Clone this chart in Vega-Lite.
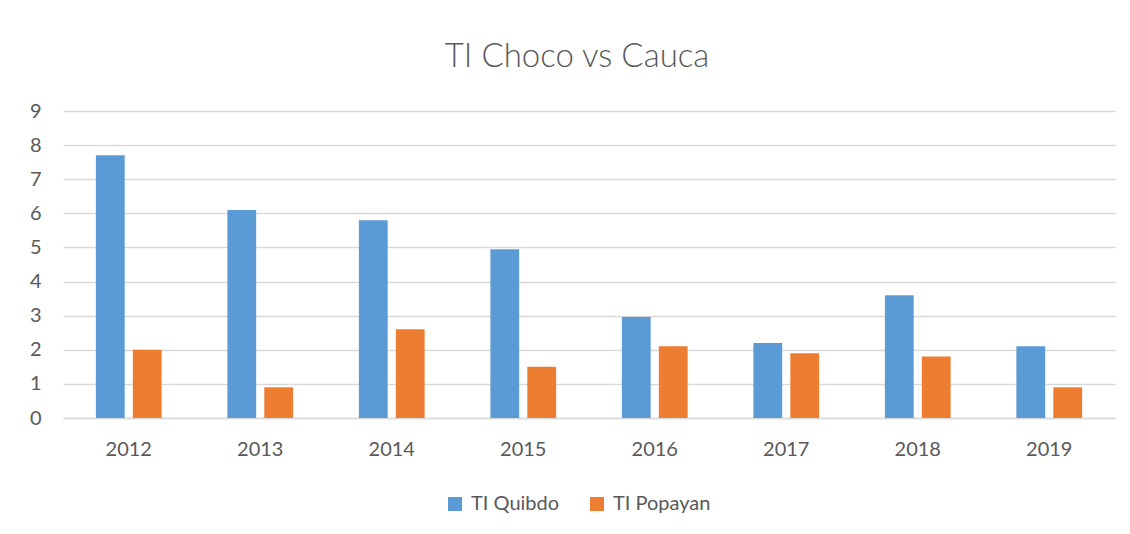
{
  "$schema": "https://vega.github.io/schema/vega-lite/v6.json",
  "width": 1052,
  "height": 307,
  "autosize": {"type": "none"},
  "padding": {"left": 63, "top": 111, "right": 15, "bottom": 116},
  "background": "white",
  "title": {
    "text": "TI Choco vs Cauca",
    "font": "Lato",
    "fontSize": 33,
    "fontWeight": 300,
    "color": "#595959",
    "anchor": "middle",
    "offset": 27,
    "dx": -12
  },
  "data": {
    "values": [
      {"year": "2012", "series": "TI Quibdo", "value": 7.7},
      {"year": "2012", "series": "TI Popayan", "value": 2.0},
      {"year": "2013", "series": "TI Quibdo", "value": 6.1},
      {"year": "2013", "series": "TI Popayan", "value": 0.9},
      {"year": "2014", "series": "TI Quibdo", "value": 5.8},
      {"year": "2014", "series": "TI Popayan", "value": 2.6},
      {"year": "2015", "series": "TI Quibdo", "value": 4.95},
      {"year": "2015", "series": "TI Popayan", "value": 1.5},
      {"year": "2016", "series": "TI Quibdo", "value": 2.96},
      {"year": "2016", "series": "TI Popayan", "value": 2.1},
      {"year": "2017", "series": "TI Quibdo", "value": 2.2},
      {"year": "2017", "series": "TI Popayan", "value": 1.9},
      {"year": "2018", "series": "TI Quibdo", "value": 3.6},
      {"year": "2018", "series": "TI Popayan", "value": 1.8},
      {"year": "2019", "series": "TI Quibdo", "value": 2.1},
      {"year": "2019", "series": "TI Popayan", "value": 0.9}
    ]
  },
  "mark": {"type": "bar"},
  "encoding": {
    "x": {
      "field": "year",
      "type": "nominal",
      "scale": {"paddingInner": 0.5, "paddingOuter": 0.25},
      "axis": {
        "title": null,
        "labelAngle": 0,
        "labelFont": "Lato",
        "labelFontSize": 20,
        "labelColor": "#595959",
        "labelPadding": 21,
        "ticks": false,
        "domain": true,
        "domainColor": "#d9d9d9",
        "domainWidth": 1.5
      }
    },
    "xOffset": {
      "field": "series",
      "type": "nominal",
      "sort": ["TI Quibdo", "TI Popayan"],
      "scale": {"paddingInner": 0.22, "paddingOuter": 0}
    },
    "y": {
      "field": "value",
      "type": "quantitative",
      "scale": {"domain": [0, 9], "nice": false},
      "axis": {
        "title": null,
        "values": [0, 1, 2, 3, 4, 5, 6, 7, 8, 9],
        "labelOverlap": false,
        "labelFont": "Lato",
        "labelFontSize": 20,
        "labelColor": "#595959",
        "labelPadding": 22,
        "ticks": false,
        "domain": false,
        "grid": true,
        "gridColor": "#d9d9d9",
        "gridWidth": 1.5
      }
    },
    "color": {
      "field": "series",
      "type": "nominal",
      "sort": ["TI Quibdo", "TI Popayan"],
      "scale": {"domain": ["TI Quibdo", "TI Popayan"], "range": ["#5B9BD5", "#ED7D31"]},
      "legend": {
        "title": null,
        "orient": "none",
        "legendX": 382,
        "legendY": 383,
        "direction": "horizontal",
        "symbolType": "square",
        "symbolSize": 196,
        "symbolStrokeWidth": 0,
        "labelFont": "Lato",
        "labelFontSize": 20,
        "labelColor": "#595959",
        "columnPadding": 27,
        "labelOffset": 6
      }
    }
  },
  "config": {
    "view": {"stroke": null}
  }
}
